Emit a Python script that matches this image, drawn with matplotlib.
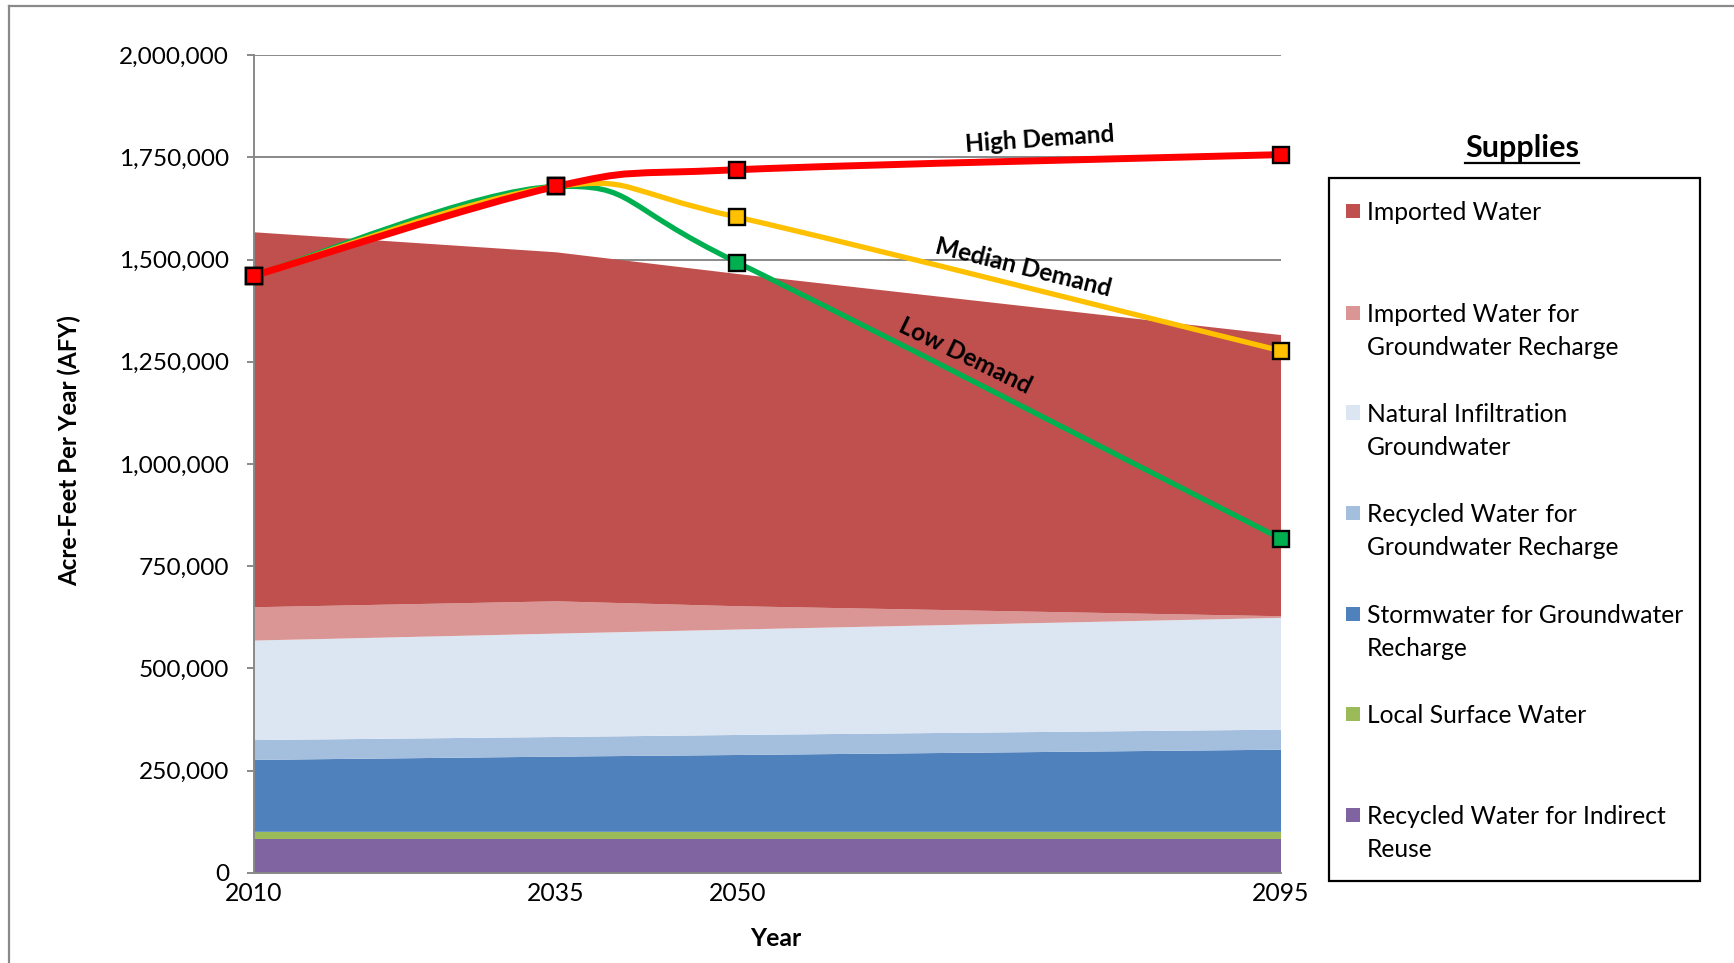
import matplotlib
matplotlib.use("Agg")
import matplotlib.pyplot as plt
from matplotlib.path import Path
from matplotlib.patches import PathPatch, Rectangle
from matplotlib.lines import Line2D

# ---------------- data ----------------
years = [2010, 2035, 2050, 2095]

recycled_indirect = [82000, 82000, 82000, 82000]
local_surface = [18000, 18000, 18000, 18000]
stormwater = [176000, 184000, 188000, 201000]
recycled_gw = [48500, 48000, 49000, 49000]
natural_infiltration = [243500, 253000, 258000, 273500]
imported_gw = [81500, 79000, 57000, 4000]
imported = [917500, 854000, 813000, 688000]

high_demand = [1461000, 1679000, 1720000, 1757000]
median_demand = [1461000, 1679000, 1604000, 1277000]
low_demand = [1461000, 1679000, 1493000, 817000]

legend_labels = [
    "Imported Water",
    "Imported Water for\nGroundwater Recharge",
    "Natural Infiltration\nGroundwater",
    "Recycled Water for\nGroundwater Recharge",
    "Stormwater for Groundwater\nRecharge",
    "Local Surface Water",
    "Recycled Water for Indirect\nReuse",
]
y_ticks = [0, 250000, 500000, 750000, 1000000, 1250000, 1500000, 1750000, 2000000]
x_ticks = [2010, 2035, 2050, 2095]

# ---------------- style ----------------
FONT = "Lato"
plt.rcParams["font.family"] = [FONT, "DejaVu Sans"]

C_IMP = "#C0504D"
C_IMPGW = "#D99694"
C_NAT = "#DCE6F2"
C_RECGW = "#A4BEDE"
C_STORM = "#4F81BD"
C_LOCAL = "#9BBB59"
C_RECIND = "#8064A2"
GRAY = "#898989"

W, H = 1734, 963
fig = plt.figure(figsize=(W / 100, H / 100), dpi=100)


def fx(x):
    return x / W


def fy(y):
    return 1 - y / H


ax_left, ax_right, ax_top, ax_bot = 254, 1281, 55.3, 872.7
ax = fig.add_axes([fx(ax_left), fy(ax_bot), fx(ax_right - ax_left), (ax_bot - ax_top) / H])

# stacked areas (bottom to top)
layers = [recycled_indirect, local_surface, stormwater, recycled_gw,
          natural_infiltration, imported_gw, imported]
layer_colors = [C_RECIND, C_LOCAL, C_STORM, C_RECGW, C_NAT, C_IMPGW, C_IMP]
ax.stackplot(years, *layers, colors=layer_colors, linewidth=0, zorder=1)


# smoothed demand lines (Catmull-Rom style Bezier, like Excel smoothing)
def smooth_path(xs, ys):
    pts = list(zip(xs, ys))
    n = len(pts)
    verts = [pts[0]]
    codes = [Path.MOVETO]
    for i in range(n - 1):
        p0 = pts[i - 1] if i > 0 else pts[i]
        p1 = pts[i]
        p2 = pts[i + 1]
        p3 = pts[i + 2] if i + 2 < n else pts[i + 1]
        c1 = (p1[0] + (p2[0] - p0[0]) / 6, p1[1] + (p2[1] - p0[1]) / 6)
        c2 = (p2[0] - (p3[0] - p1[0]) / 6, p2[1] - (p3[1] - p1[1]) / 6)
        verts += [c1, c2, p2]
        codes += [Path.CURVE4] * 3
    return Path(verts, codes)


for series, color, lw, z in [(low_demand, "#00B050", 3.8, 4),
                             (median_demand, "#FFC000", 3.8, 5),
                             (high_demand, "#FF0000", 5.0, 6)]:
    ax.add_patch(PathPatch(smooth_path(years, series), facecolor="none",
                           edgecolor=color, lw=lw, zorder=z, capstyle="round"))
    ax.plot(years, series, linestyle="none", marker="s", markersize=11.5,
            markerfacecolor=color, markeredgecolor="black", markeredgewidth=1.7,
            zorder=z + 0.5, clip_on=False)

ax.set_xlim(2010, 2095)
ax.set_ylim(0, 2000000)
ax.set_yticks(y_ticks)
ax.set_yticklabels([f"{v:,}" for v in y_ticks])
ax.set_xticks(x_ticks)
ax.set_xticklabels([str(v) for v in x_ticks])
ax.yaxis.grid(True, color=GRAY, lw=1.4, zorder=0)
ax.set_axisbelow(True)
for s in ["top", "right"]:
    ax.spines[s].set_visible(False)
for s in ["left", "bottom"]:
    ax.spines[s].set_color(GRAY)
    ax.spines[s].set_linewidth(1.4)
ax.tick_params(axis="y", length=5, width=1.4, color=GRAY, pad=13, labelsize=17.6)
ax.tick_params(axis="x", length=0, pad=6.5, labelsize=17.8)
ax.set_facecolor("none")

fig.text(fx(69), fy(451), "Acre-Feet Per Year (AFY)", fontsize=17.4,
         fontweight="bold", rotation=90, ha="center", va="center")
fig.text(fx(776), fy(938), "Year", fontsize=17.8, fontweight="bold",
         ha="center", va="center")

# demand labels
fig.text(fx(1040), fy(139), "High Demand", fontsize=17.6, fontweight="bold",
         rotation=4, ha="center", va="center", rotation_mode="anchor")
fig.text(fx(1023), fy(268), "Median Demand", fontsize=17.6, fontweight="bold",
         rotation=-14, ha="center", va="center", rotation_mode="anchor")
fig.text(fx(965), fy(356), "Low Demand", fontsize=17.6, fontweight="bold",
         rotation=-26, ha="center", va="center", rotation_mode="anchor")

# outer chart border (only left and top visible)
fig.add_artist(Line2D([fx(9), fx(9)], [fy(6), fy(H + 5)], color=GRAY, lw=1.6))
fig.add_artist(Line2D([fx(9), fx(W + 5)], [fy(6), fy(6)], color=GRAY, lw=1.6))

# legend (manual)
fig.add_artist(Rectangle((fx(1329), fy(881)), fx(1700 - 1329), (881 - 178) / H,
                         facecolor="white", edgecolor="black", lw=1.6,
                         transform=fig.transFigure))
title = fig.text(fx(1522), fy(148), "Supplies", fontsize=22, fontweight="bold",
                 ha="center", va="center")
entry_y = [211, 313, 412.5, 513, 614, 714, 815]
leg_colors = [C_IMP, C_IMPGW, C_NAT, C_RECGW, C_STORM, C_LOCAL, C_RECIND]
sq = 14
for y, lab, col in zip(entry_y, legend_labels, leg_colors):
    fig.add_artist(Rectangle((fx(1346), fy(y + sq / 2)), fx(sq), sq / H,
                             facecolor=col, edgecolor="none",
                             transform=fig.transFigure))
    fig.text(fx(1367), fy(y - 10), lab, fontsize=17.7, ha="left", va="top",
             linespacing=1.53)

# underline for title
fig.canvas.draw()
bb = title.get_window_extent(fig.canvas.get_renderer())
fig.add_artist(Line2D([bb.x0 / W, bb.x1 / W], [(bb.y0 - 1) / H, (bb.y0 - 1) / H],
                      color="black", lw=1.6))

fig.savefig("out.png", dpi=100)
